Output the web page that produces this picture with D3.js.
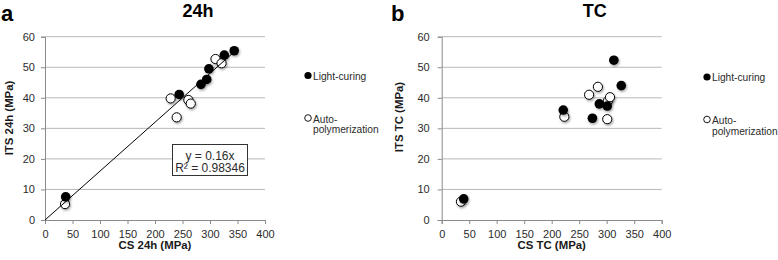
<!DOCTYPE html>
<html>
<head>
<meta charset="utf-8">
<script src="https://cdn.jsdelivr.net/npm/d3@7"></script>
<style>
  body { margin: 0; background: #fff; }
  svg { font-family: "Liberation Sans", Arial, sans-serif; }
</style>
</head>
<body>
<svg id="chart" width="778" height="260"></svg>
<script>
// ---- data ----
let xTicks = [0, 50, 100, 150, 200, 250, 300, 350, 400];
let yTicks = [0, 10, 20, 30, 40, 50, 60];

// panel a : 24h
let cs24Light = [37.6, 244, 283.6, 294, 298, 326, 344];
let its24Light = [7.6, 41.1, 44.4, 46.0, 49.5, 54.0, 55.4];
let cs24Auto = [36.4, 228.5, 239.4, 260.6, 265, 310, 321];
let its24Auto = [5.2, 39.8, 33.6, 39.3, 38.1, 52.7, 51.3];
let trendSlope = 0.16;
let trendText = ['y = 0.16x', 'R² = 0.98346'];

// panel b : TC
let csTCLight = [40, 221, 274, 286.6, 301, 313, 326.5];
let itsTCLight = [6.9, 36.0, 33.3, 38.0, 37.3, 52.3, 44.0];
let csTCAuto = [35, 223, 268, 284, 302.4, 301, 306];
let itsTCAuto = [6.0, 33.8, 41.0, 43.6, 39.05, 33.0, 40.2];

let seriesNames = ['Light-curing', 'Auto-polymerization'];

let svg = d3.select('#chart');

// soft shadow behind the markers
svg.append('defs')
    .append('filter')
    .attr('id', 'shadow')
    .attr('x', '-50%').attr('y', '-50%')
    .attr('width', '200%').attr('height', '200%')
    .append('feDropShadow')
    .attr('dx', 1).attr('dy', 1.5)
    .attr('stdDeviation', 0.9)
    .attr('flood-color', '#000')
    .attr('flood-opacity', 0.35);

function zip(xs, ys) {
    return xs.map((x, i) => ({x: x, y: ys[i]}));
}

function drawPanel(p) {

    let x = d3.scaleLinear().domain([0, 400]).range([p.left, p.left + 220]);
    let y = d3.scaleLinear().domain([0, 60]).range([220, 36.7]);

    let g = svg.append('g');

    // horizontal gridlines
    g.selectAll('.grid')
        .data(yTicks.filter(d => d > 0))
        .join('line')
        .attr('x1', x(0)).attr('x2', x(400))
        .attr('y1', d => y(d)).attr('y2', d => y(d))
        .attr('stroke', '#b8b8b8')
        .attr('stroke-width', 1);

    // axes
    let yAxis = g.append('g')
        .attr('transform', 'translate(' + x(0) + ',0)')
        .call(d3.axisLeft(y).tickValues(yTicks).tickSize(4).tickPadding(p.yPad));
    let xAxis = g.append('g')
        .attr('transform', 'translate(0,' + y(0) + ')')
        .call(d3.axisBottom(x).tickValues(xTicks).tickSize(4).tickPadding(6));

    [xAxis, yAxis].forEach(a => {
        a.select('.domain').attr('stroke', '#8a8a8a');
        a.selectAll('.tick line').attr('stroke', '#8a8a8a');
        a.selectAll('.tick text')
            .attr('fill', '#2b2b2b')
            .attr('font-size', '11px')
            .attr('font-family', '"Liberation Sans", Arial, sans-serif');
    });

    // markers
    let auto = zip(p.autoX, p.autoY);
    let light = zip(p.lightX, p.lightY);

    g.selectAll('.pt_auto')
        .data(auto)
        .join('circle')
        .attr('class', 'pt_auto')
        .attr('cx', d => x(d.x))
        .attr('cy', d => y(d.y))
        .attr('r', 4.6)
        .attr('fill', '#fff')
        .attr('stroke', '#000')
        .attr('stroke-width', 1)
        .attr('filter', 'url(#shadow)');

    g.selectAll('.pt_light')
        .data(light)
        .join('circle')
        .attr('class', 'pt_light')
        .attr('cx', d => x(d.x))
        .attr('cy', d => y(d.y))
        .attr('r', 4.8)
        .attr('fill', '#000')
        .attr('filter', 'url(#shadow)');

    // linear trendline through origin
    if (p.slope) {
        let xmax = d3.max(p.lightX.concat(p.autoX));
        g.append('line')
            .attr('x1', x(0)).attr('y1', y(0))
            .attr('x2', x(xmax)).attr('y2', y(p.slope * xmax))
            .attr('stroke', '#000')
            .attr('stroke-width', 1);

        g.append('rect')
            .attr('x', 172.5).attr('y', 144.5)
            .attr('width', 75).attr('height', 31)
            .attr('fill', '#fff')
            .attr('stroke', '#333')
            .attr('stroke-width', 1);

        g.selectAll('.eq')
            .data(p.eq)
            .join('text')
            .attr('x', 210)
            .attr('y', (d, i) => 159.5 + i * 12.5)
            .attr('text-anchor', 'middle')
            .attr('font-size', '12px')
            .attr('fill', '#2b2b2b')
            .text(d => d);
    }

    // titles
    g.append('text')
        .attr('x', p.letterX).attr('y', 20.5)
        .attr('font-size', '22px').attr('font-weight', 'bold')
        .text(p.letter);

    g.append('text')
        .attr('x', p.left + 153).attr('y', 17)
        .attr('text-anchor', 'middle')
        .attr('font-size', '18px').attr('font-weight', 'bold')
        .text(p.title);

    g.append('text')
        .attr('x', p.left + 110).attr('y', 249)
        .attr('text-anchor', 'middle')
        .attr('font-size', '11.4px').attr('font-weight', 'bold')
        .attr('fill', '#1a1a1a')
        .text(p.xLabel);

    g.append('text')
        .attr('transform', 'translate(' + p.yLabelX + ',' + p.yLabelY + ') rotate(-90)')
        .attr('text-anchor', 'middle')
        .attr('font-size', '11.4px').attr('font-weight', 'bold')
        .attr('fill', '#1a1a1a')
        .text(p.yLabel);

    // legend
    let lg = g.append('g')
        .attr('transform', 'translate(' + p.legX + ',' + p.legY + ')');

    lg.append('circle')
        .attr('cx', 0).attr('cy', 0).attr('r', 3.6)
        .attr('fill', '#000');
    lg.append('text')
        .attr('x', 5).attr('y', 4)
        .attr('font-size', '10.2px').attr('fill', '#2b2b2b')
        .text(seriesNames[0]);

    lg.append('circle')
        .attr('cx', 0).attr('cy', 42.5).attr('r', 3.3)
        .attr('fill', '#fff').attr('stroke', '#000').attr('stroke-width', 0.9);
    lg.append('text')
        .attr('x', 5).attr('y', 47)
        .attr('font-size', '10.2px').attr('fill', '#2b2b2b')
        .selectAll('tspan')
        .data(['Auto-', 'polymerization'])
        .join('tspan')
        .attr('x', 5)
        .attr('dy', (d, i) => i === 0 ? 0 : 10.5)
        .text(d => d);
}

drawPanel({
    left: 45, yPad: 6,
    lightX: cs24Light, lightY: its24Light,
    autoX: cs24Auto, autoY: its24Auto,
    slope: trendSlope, eq: trendText,
    letter: 'a', letterX: 1, title: '24h',
    xLabel: 'CS 24h (MPa)', yLabel: 'ITS 24h (MPa)',
    yLabelX: 12.5, yLabelY: 118,
    legX: 308, legY: 75.5
});

drawPanel({
    left: 441.7, yPad: 8,
    lightX: csTCLight, lightY: itsTCLight,
    autoX: csTCAuto, autoY: itsTCAuto,
    letter: 'b', letterX: 391, title: 'TC',
    xLabel: 'CS TC (MPa)', yLabel: 'ITS TC (MPa)',
    yLabelX: 403, yLabelY: 117,
    legX: 707, legY: 77
});
</script>
</body>
</html>
